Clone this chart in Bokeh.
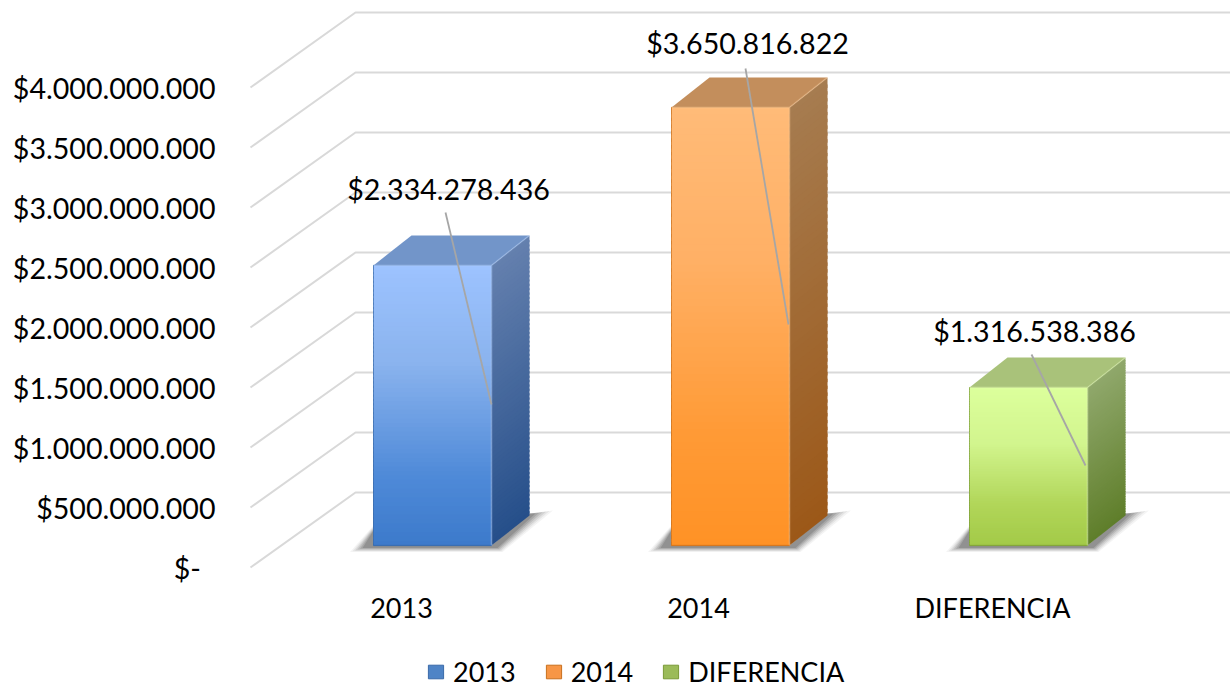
from bokeh.plotting import figure
from bokeh.models import Range1d, FixedTicker, Legend, LegendItem
from bokeh.core.properties import value
from bokeh.embed import file_html
from bokeh.resources import INLINE

# ---- data ----
categories = ["2013", "2014", "DIFERENCIA"]
values = [2334278436, 3650816822, 1316538386]
value_labels = ["$2.334.278.436", "$3.650.816.822", "$1.316.538.386"]
y_ticks = [0, 500000000, 1000000000, 1500000000, 2000000000,
           2500000000, 3000000000, 3500000000, 4000000000]
y_tick_labels = ["$-", "$500.000.000", "$1.000.000.000", "$1.500.000.000", "$2.000.000.000",
                 "$2.500.000.000", "$3.000.000.000", "$3.500.000.000", "$4.000.000.000"]

# ---- styling / layout (page pixels) ----
FONT = "Lato"
FS = "28.6px"
FS2 = "27px"
PX_PER_UNIT = 60 / 500000000
Y0 = 567                       # page y of value 0 on the front edge of the walls
def v(page_y):                 # page pixel -> value scale
    return (Y0 - page_y) / PX_PER_UNIT

bar_left = [373, 671, 969]
bar_w = 118
tick_x = [401, 698, 992]
label_x = [448, 747, 1034]
label_y = [188, 42, 330]
leader = [((445, 212), (491, 404)), ((745, 68), (788, 324)), ((1031, 354), (1085, 465))]
BASE = 545
DX, DY = 38, 30
BASE_V = v(BASE)
DY_V = DY / PX_PER_UNIT

front_stops = [
    [(0, "#9dc3ff"), (0.35, "#8ab3ee"), (0.75, "#4f8ad8"), (1, "#3c7acb")],
    [(0, "#ffbb78"), (0.35, "#ffb065"), (0.75, "#ff9a35"), (1, "#ff9226")],
    [(0, "#dcff9c"), (0.35, "#d2f58e"), (0.75, "#b0d558"), (1, "#a3ca48")],
]
side_stops = [
    [(0, "#6480ae"), (1, "#264f8a")],
    [(0, "#a67c50"), (1, "#9c5818")],
    [(0, "#90a86c"), (1, "#5f7e2a")],
]
top_col = ["#7295c9", "#c38e5c", "#a9c27a"]
edge_col = ["#b6d3ff", "#ffcf9c", "#e8ffb8"]
mid_col = ["#4f84c6", "#f79646", "#9bbb59"]
line_col = ["#3a6aa8", "#c8701e", "#7a9a38"]

def hex2rgb(c):
    return tuple(int(c[i:i + 2], 16) for i in (1, 3, 5))

def grad(stops, t):
    for (t0, c0), (t1, c1) in zip(stops, stops[1:]):
        if t <= t1:
            f = (t - t0) / (t1 - t0)
            a, b = hex2rgb(c0), hex2rgb(c1)
            return "#%02x%02x%02x" % tuple(round(a[i] + (b[i] - a[i]) * f) for i in range(3))
    return stops[-1][1]

p = figure(width=1230, height=688, output_backend="svg", toolbar_location=None,
           x_range=Range1d(222, 1230), y_range=Range1d(v(688), v(8)),
           min_border_left=222, min_border_right=0, min_border_top=8, min_border_bottom=0,
           frame_width=1008, frame_height=680)
p.outline_line_color = None
p.grid.visible = False
p.background_fill_color = "white"
p.border_fill_color = "white"

# walls
grey = "#d9d9d9"
p.multi_line([[250, 355, 1230] for _ in y_ticks],
             [[t, t + 75 / PX_PER_UNIT, t + 75 / PX_PER_UNIT] for t in y_ticks],
             line_color=grey, line_width=2)

# floor shadows: soft layers, shrinking towards the bar
for i in range(3):
    l, r = bar_left[i], bar_left[i] + bar_w
    for k in range(6):
        g = 5 - k
        p.patch([l - 16 - g * 1.5 + k, r + 6 + g, r + DX + 16 + g * 1.5 - k * 2, r + DX, r, l, l],
                [v(BASE + 2.5 + g * 0.8), v(BASE + 2.5 + g * 0.8), v(BASE - DY - 2 - g * 0.6),
                 v(BASE - DY - 2), v(BASE), v(BASE), v(BASE - 15 - g)],
                fill_color="#303030", fill_alpha=0.05 + 0.025 * k, line_color=None)

# bars
N = 64
legend_items = []
for i, val in enumerate(values):
    l, r = bar_left[i], bar_left[i] + bar_w
    top = BASE_V + val
    # base quad, also the legend's key
    q = p.quad(left=[l], right=[r], bottom=[BASE_V], top=[top],
               fill_color=mid_col[i], line_color=line_col[i], line_width=1)
    legend_items.append(LegendItem(label=categories[i], renderers=[q]))
    # front face
    h = val / N
    p.quad(left=[l] * N, right=[r] * N,
           top=[top - k * h for k in range(N)],
           bottom=[top - (k + 1) * h - h * 0.5 if k < N - 1 else BASE_V for k in range(N)],
           fill_color=[grad(front_stops[i], (k + .5) / N) for k in range(N)], line_color=None)
    # side face
    xs, ys, cs = [], [], []
    for k in range(N):
        t0, t1 = top - k * h, top - (k + 1) * h - (h * 0.5 if k < N - 1 else 0)
        xs.append([r, r + DX, r + DX, r])
        ys.append([t0, t0 + DY_V, t1 + DY_V, t1])
        cs.append(grad(side_stops[i], (k + .5) / N))
    p.patches(xs, ys, fill_color=cs, line_color=None)
    # top face
    p.patch([l, l + DX, r + DX, r], [top, top + DY_V, top + DY_V, top],
            fill_color=top_col[i], line_color=None)
    # light bevel edges
    p.line([l, r, r], [top, top, BASE_V], line_color=edge_col[i], line_width=1.5, line_alpha=0.5)
    p.line([r, r + DX], [top, top + DY_V], line_color=edge_col[i], line_width=1.5, line_alpha=0.35)
    p.line([l, l], [top, BASE_V], line_color=line_col[i], line_width=1, line_alpha=0.5)
    p.line([l, r], [BASE_V, BASE_V], line_color=line_col[i], line_width=1.5, line_alpha=0.5)

# leaders
p.multi_line([[a[0], b[0]] for a, b in leader], [[v(a[1]), v(b[1])] for a, b in leader],
             line_color="#a6a6a6", line_width=1.8)

# value labels
p.text(x=label_x, y=[v(y) for y in label_y], text=value_labels,
       text_font=value(FONT), text_font_size=value(FS), text_color="#000000",
       text_align="center", text_baseline="middle")

# axes
ya = p.yaxis[0]
ya.ticker = FixedTicker(ticks=y_ticks)
ya.major_label_overrides = {t: (s if t else "$-\u00a0\u00a0") for t, s in zip(y_ticks, y_tick_labels)}
ya.axis_line_color = None
ya.major_tick_line_color = None
ya.minor_tick_line_color = None
ya.major_label_standoff = 1
ya.major_label_text_font = FONT
ya.major_label_text_font_size = FS
ya.major_label_text_color = "#000000"

xa = p.xaxis[0]
xa.ticker = FixedTicker(ticks=tick_x)
xa.major_label_overrides = dict(zip(tick_x, categories))
xa.fixed_location = v(580)
xa.axis_line_color = None
xa.major_tick_line_color = None
xa.minor_tick_line_color = None
xa.major_label_standoff = 4
xa.major_label_text_font = FONT
xa.major_label_text_font_size = FS2
xa.major_label_text_color = "#000000"

# legend
lg = Legend(items=legend_items, orientation="horizontal", location=(204, 0),
            background_fill_alpha=0, border_line_color=None,
            glyph_width=19, glyph_height=17, label_standoff=8, spacing=28,
            padding=0, margin=0,
            label_text_font=FONT, label_text_font_size=FS2, label_text_color="#000000")
p.add_layout(lg, "center")

open("out.html", "w").write(file_html(p, INLINE))
